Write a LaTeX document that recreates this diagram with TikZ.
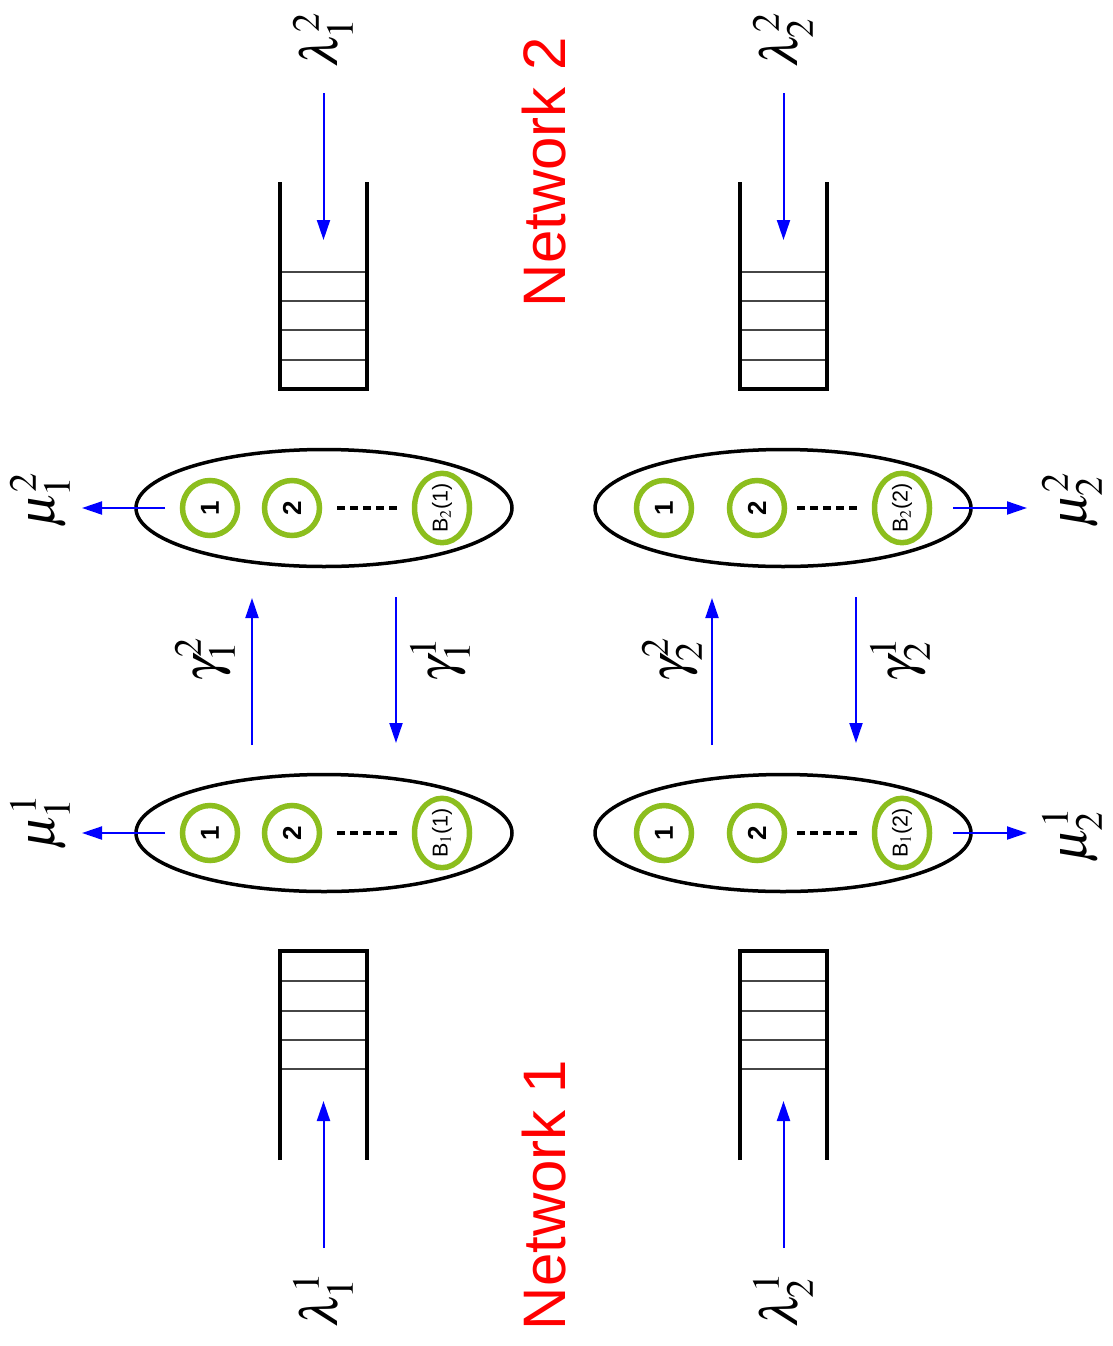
\documentclass[tikz,border=0pt]{standalone}
\usepackage{mathptmx}
\usepackage[no-math]{fontspec}
\newfontfamily\helv{Liberation Sans}
\usetikzlibrary{arrows.meta,shapes.geometric}
\definecolor{ringgreen}{RGB}{140,190,30}
\definecolor{slotgray}{RGB}{70,70,70}
\begin{document}
\begin{tikzpicture}[x=1pt,y=-1pt,
  flow/.style={draw=blue, line width=2pt, -{Triangle[length=20pt,width=13pt]}},
  wall/.style={line width=4pt, line join=miter},
  slot/.style={draw=slotgray, line width=1.5pt},
  pool/.style={ellipse, draw, line width=3.5pt, minimum width=376pt, minimum height=117pt, inner sep=0pt},
  ring/.style={circle, draw=ringgreen, line width=5.5pt, minimum size=55pt, inner sep=0pt, rotate=90, font=\helv\bfseries\fontsize{26}{26}\selectfont},
  bring/.style={ellipse, draw=ringgreen, line width=5.5pt, minimum width=65pt, minimum height=55pt, inner sep=0pt, rotate=90, font=\helv\fontsize{21.5}{22}\selectfont},
  dots/.style={line width=4pt, dash pattern=on 8pt off 5pt},
  rate/.style={rotate=90, inner sep=0pt, font=\fontsize{52}{56}\selectfont},
  net/.style={rotate=90, text=red, inner sep=0pt, font=\helv\fontsize{60}{60}\selectfont}
]
\useasboundingbox (0,0) rectangle (1112,1346);

% ---- buffers of network 2 (open at the top) ----
\foreach \cx/\q in {323.5/qa, 783.5/qb}{
  \coordinate (\q-tl) at (\cx-43.5,182);
  \coordinate (\q-bl) at (\cx-43.5,389);
  \coordinate (\q-br) at (\cx+43.5,389);
  \coordinate (\q-tr) at (\cx+43.5,182);
  \foreach \y in {272,301,330,360} \draw[slot] (\cx-43.5,\y) -- (\cx+43.5,\y);
  \draw[wall] (\q-tl) -- (\q-bl) -- (\q-br) -- (\q-tr);
  \coordinate (\q-src) at (\cx,93);
  \coordinate (\q-dst) at (\cx,240);
  \draw[flow] (\q-src) -- (\q-dst);
}

% ---- buffers of network 1 (open at the bottom) ----
\foreach \cx/\q in {323.5/qc, 783.5/qd}{
  \coordinate (\q-tl) at (\cx-43.5,1160);
  \coordinate (\q-bl) at (\cx-43.5,951);
  \coordinate (\q-br) at (\cx+43.5,951);
  \coordinate (\q-tr) at (\cx+43.5,1160);
  \foreach \y in {981,1011,1040,1069} \draw[slot] (\cx-43.5,\y) -- (\cx+43.5,\y);
  \draw[wall] (\q-tl) -- (\q-bl) -- (\q-br) -- (\q-tr);
  \coordinate (\q-src) at (\cx,1248);
  \coordinate (\q-dst) at (\cx,1101);
  \draw[flow] (\q-src) -- (\q-dst);
}

% ---- server pools ----
\node[pool] (p21) at (324,508) {};
\node[pool] (p11) at (324,833) {};
\node[pool] (p22) at (783,508) {};
\node[pool] (p12) at (783,833) {};

% servers, left column
\foreach \y/\s/\b in {508/21/{B$_2$(1)}, 833/11/{B$_1$(1)}}{
  \node[ring]  (s\s-1) at (210,\y) {1};
  \node[ring]  (s\s-2) at (292,\y) {2};
  \node[bring] (s\s-b) at (442,\y) {\b};
  \draw[dots] (337,\y) -- (397,\y);
}
% servers, right column
\foreach \y/\s/\b in {508/22/{B$_2$(2)}, 833/12/{B$_1$(2)}}{
  \node[ring]  (s\s-1) at (664,\y) {1};
  \node[ring]  (s\s-2) at (757,\y) {2};
  \node[bring] (s\s-b) at (902,\y) {\b};
  \draw[dots] (797,\y) -- (857,\y);
}

% ---- departures ----
\coordinate (d21a) at (165,508);  \coordinate (d21b) at (82,508);
\coordinate (d11a) at (165,833);  \coordinate (d11b) at (82,833);
\coordinate (d22a) at (953,508);  \coordinate (d22b) at (1027,508);
\coordinate (d12a) at (953,833);  \coordinate (d12b) at (1027,833);
\draw[flow] (d21a) -- (d21b);
\draw[flow] (d11a) -- (d11b);
\draw[flow] (d22a) -- (d22b);
\draw[flow] (d12a) -- (d12b);

% ---- transfers between the networks ----
\coordinate (g1ua) at (252,745); \coordinate (g1ub) at (252,598);
\coordinate (g1da) at (396,597); \coordinate (g1db) at (396,743);
\coordinate (g2ua) at (712,745); \coordinate (g2ub) at (712,598);
\coordinate (g2da) at (856,597); \coordinate (g2db) at (856,743);
\draw[flow] (g1ua) -- (g1ub);
\draw[flow] (g1da) -- (g1db);
\draw[flow] (g2ua) -- (g2ub);
\draw[flow] (g2da) -- (g2db);

% ---- rate labels ----
\node[rate] (lam12) at (323,40)   {$\lambda_1^2$};
\node[rate] (lam22) at (783,40)   {$\lambda_2^2$};
\node[rate] (lam11) at (323,1300) {$\lambda_1^1$};
\node[rate] (lam21) at (783,1300) {$\lambda_2^1$};
\node[rate] (mu12)  at (40,500)   {$\mu_1^2$};
\node[rate] (mu11)  at (40,822)   {$\mu_1^1$};
\node[rate] (mu22)  at (1072,500) {$\mu_2^2$};
\node[rate] (mu21)  at (1072,835) {$\mu_2^1$};
\node[rate] (ga12)  at (205,660)  {$\gamma_1^2$};
\node[rate] (ga11)  at (440,660)  {$\gamma_1^1$};
\node[rate] (ga22)  at (672,660)  {$\gamma_2^2$};
\node[rate] (ga21)  at (900,660)  {$\gamma_2^1$};

% ---- network titles ----
\node[net] (n2) at (544,172)  {Network 2};
\node[net] (n1) at (544,1195) {Network 1};
\end{tikzpicture}
\end{document}
